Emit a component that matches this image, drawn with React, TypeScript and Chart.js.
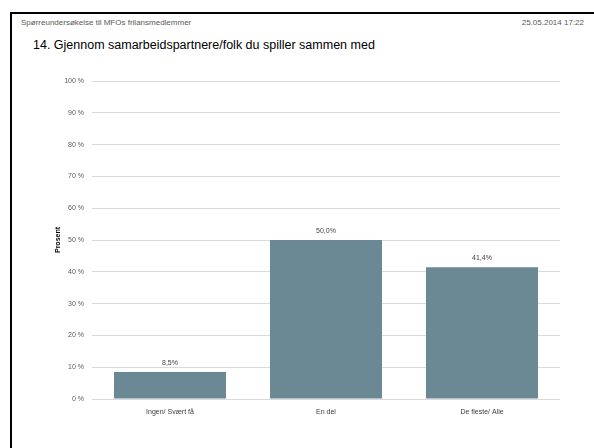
import React, { useEffect, useRef } from "react";
import { Chart, registerables } from "chart.js";

Chart.register(...registerables);

const categories = ["Ingen/ Svært få", "En del", "De fleste/ Alle"];
const values = [8.5, 50.0, 41.4];
const valueLabels = ["8,5%", "50,0%", "41,4%"];
const yTicks = [0, 10, 20, 30, 40, 50, 60, 70, 80, 90, 100];

const headerLeft = "Spørreundersøkelse til MFOs frilansmedlemmer";
const headerRight = "25.05.2014 17:22";
const title = "14. Gjennom samarbeidspartnere/folk du spiller sammen med";
const yTitle = "Prosent";

const FONT = "'Liberation Sans Narrow', 'Liberation Sans', sans-serif";

const valueLabelPlugin = {
  id: "valueLabels",
  afterDatasetsDraw(chart: any) {
    const ctx = chart.ctx;
    const meta = chart.getDatasetMeta(0);
    ctx.save();
    ctx.font = `7px ${FONT}`;
    ctx.fillStyle = "#404040";
    ctx.textAlign = "center";
    ctx.textBaseline = "middle";
    meta.data.forEach((bar: any, i: number) => {
      ctx.fillText(valueLabels[i], bar.x, bar.y - 9);
    });
    ctx.restore();
  },
};

export default function App() {
  const ref = useRef<HTMLCanvasElement | null>(null);

  useEffect(() => {
    if (!ref.current) return;
    const chart = new Chart(ref.current, {
      type: "bar",
      data: {
        labels: categories,
        datasets: [
          {
            data: values,
            backgroundColor: "#6A8995",
            borderWidth: 0,
            barPercentage: 0.718,
            categoryPercentage: 1,
          },
        ],
      },
      options: {
        animation: false,
        responsive: false,
        maintainAspectRatio: false,
        layout: { padding: { left: 54, top: 81, right: 34, bottom: 29 } },
        plugins: {
          legend: { display: false },
          tooltip: { enabled: false },
        },
        scales: {
          x: {
            grid: { display: false, drawTicks: false },
            border: { display: false },
            ticks: {
              padding: 9,
              color: "#404040",
              font: { family: FONT, size: 7 },
              maxRotation: 0,
            },
            afterFit(scale: any) {
              scale.height = 20;
            },
          },
          y: {
            min: 0,
            max: 100,
            afterBuildTicks(scale: any) {
              scale.ticks = yTicks.map((v) => ({ value: v }));
            },
            grid: { color: "#D9D9D9", lineWidth: 1, drawTicks: false },
            border: { display: false },
            ticks: {
              padding: 8,
              color: "#595959",
              font: { family: FONT, size: 7 },
              callback: (v: any) => `${v} %`,
            },
            title: {
              display: true,
              text: yTitle,
              color: "#000000",
              font: { family: FONT, size: 7, weight: "bold" },
              padding: 0,
            },
            afterFit(scale: any) {
              scale.width = 38;
            },
          },
        },
      },
      plugins: [valueLabelPlugin],
    });
    return () => chart.destroy();
  }, []);

  return (
    <div
      style={{
        position: "fixed",
        left: 0,
        top: 0,
        width: 594,
        height: 448,
        background: "#ffffff",
        overflow: "hidden",
        fontFamily: FONT,
      }}
    >
      <div
        style={{
          position: "absolute",
          left: 10,
          top: 12,
          width: 584,
          height: 436,
          borderTop: "2px solid #000",
          borderLeft: "2px solid #000",
          boxSizing: "border-box",
        }}
      />
      <div
        style={{
          position: "absolute",
          left: 21,
          top: 18,
          fontSize: 8,
          color: "#595959",
          whiteSpace: "nowrap",
          lineHeight: "10px",
        }}
      >
        {headerLeft}
      </div>
      <div
        style={{
          position: "absolute",
          right: 10,
          top: 18,
          fontSize: 8,
          color: "#595959",
          whiteSpace: "nowrap",
          lineHeight: "10px",
        }}
      >
        {headerRight}
      </div>
      <div
        style={{
          position: "absolute",
          left: 33,
          top: 38,
          fontSize: 12.5,
          color: "#000",
          whiteSpace: "nowrap",
          lineHeight: "14px",
        }}
      >
        {title}
      </div>
      <canvas
        ref={ref}
        width={594}
        height={448}
        style={{ position: "absolute", left: 0, top: 0, width: 594, height: 448 }}
      />
    </div>
  );
}
